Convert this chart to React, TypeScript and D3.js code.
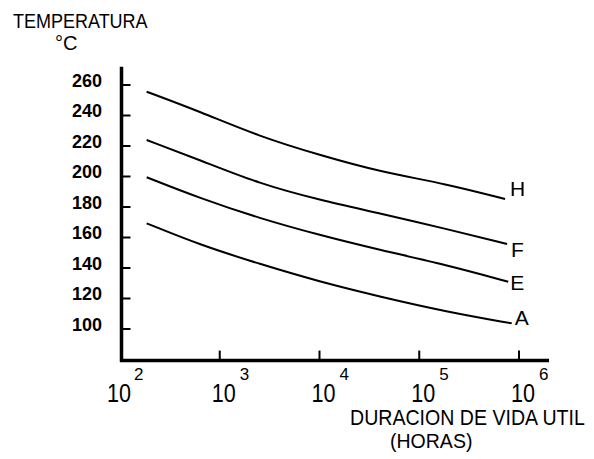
import React from "react";
import * as d3 from "d3";

// horas (eje log) y temperatura
const hours: number[] = [185, 634, 2530, 10000, 40400, 188000];
const endHours: number[] = [725000, 760000, 780000, 845000];
const tempH: number[] = [255.6, 242.5, 226.1, 214.1, 203.1, 195.1, 185.2];
const tempF: number[] = [223.9, 210.8, 195.1, 184.6, 175.9, 165.6, 155.7];
const tempE: number[] = [199.5, 185.7, 172.5, 161.6, 151.8, 142.0, 131.0];
const tempA: number[] = [169.3, 155.1, 142.6, 131.0, 121.2, 111.3, 103.7];
const seriesNames: string[] = ["H", "F", "E", "A"];

const yTicks: number[] = [100, 120, 140, 160, 180, 200, 220, 240, 260];
const xExponents: number[] = [2, 3, 4, 5, 6];

const W = 594;
const H = 459;
const font = "'Liberation Sans', Arial, sans-serif";

// small nudges so the end labels sit where the original has them
const labelNudge: Record<string, [number, number]> = {
  H: [5, -3],
  F: [4, 13],
  E: [2, 8],
  A: [3, 2],
};

const App: React.FC = () => {
  const x = d3.scaleLog().domain([100, 1e6]).range([120, 519]);
  const y = d3.scaleLinear().domain([100, 260]).range([329, 85]);

  const xEnd = x(2e6);
  const yTop = y(272);
  const yBottom = y(79.3);
  const axisX = 121.5;

  const temps = [tempH, tempF, tempE, tempA];
  const series = seriesNames.map((name, k) => ({
    name,
    xs: [...hours, endHours[k]],
    ys: temps[k],
  }));

  const line = d3
    .line<[number, number]>()
    .x((d) => x(d[0]))
    .y((d) => y(d[1]))
    .curve(d3.curveBasis);

  return (
    <svg
      width={W}
      height={H}
      style={{ position: "absolute", left: 0, top: 0, background: "#fff" }}
    >
      {/* titulo eje y */}
      <text transform="translate(13,28) scale(0.9,1)" fontFamily={font} fontSize={20}>
        TEMPERATURA
      </text>
      <text x={55} y={50} fontFamily={font} fontSize={20}>
        °C
      </text>

      {/* ejes */}
      <line x1={axisX} x2={axisX} y1={yTop} y2={yBottom + 1.5} stroke="#000" strokeWidth={3.5} />
      <line x1={axisX - 1.5} x2={xEnd} y1={yBottom} y2={yBottom} stroke="#000" strokeWidth={3.5} />

      {yTicks.map((t) => (
        <g key={t}>
          <line x1={axisX} x2={axisX + 9} y1={y(t)} y2={y(t)} stroke="#000" strokeWidth={2} />
          <text
            x={102}
            y={y(t) + 1.5}
            textAnchor="end"
            fontFamily={font}
            fontWeight="bold"
            fontSize={18}
          >
            {t}
          </text>
        </g>
      ))}

      {xExponents.map((e) => {
        const px = x(Math.pow(10, e));
        return (
          <g key={e}>
            {e > 2 && (
              <line x1={px} x2={px} y1={yBottom} y2={yBottom - 10} stroke="#000" strokeWidth={2} />
            )}
            <text
              transform={`translate(${px - (e === 2 ? 13 : 8)},402) scale(0.83,1)`}
              fontFamily={font}
              fontSize={26}
            >
              10
            </text>
            <text x={px + (e === 2 ? 14 : 20)} y={380} fontFamily={font} fontSize={17}>
              {e}
            </text>
          </g>
        );
      })}

      {/* titulo eje x */}
      <text transform="translate(350,425) scale(0.89,1)" fontFamily={font} fontSize={22}>
        DURACION DE VIDA UTIL
      </text>
      <text transform="translate(390,448) scale(0.93,1)" fontFamily={font} fontSize={21}>
        (HORAS)
      </text>

      {/* curvas */}
      {series.map((s) => {
        const pts = s.xs.map((v, i) => [v, s.ys[i]] as [number, number]);
        const last = pts[pts.length - 1];
        const nudge = labelNudge[s.name];
        return (
          <g key={s.name}>
            <path d={line(pts) || ""} fill="none" stroke="#000" strokeWidth={2} />
            <text
              x={x(last[0]) + nudge[0]}
              y={y(last[1]) + nudge[1]}
              fontFamily={font}
              fontSize={21}
            >
              {s.name}
            </text>
          </g>
        );
      })}
    </svg>
  );
};

export default App;
